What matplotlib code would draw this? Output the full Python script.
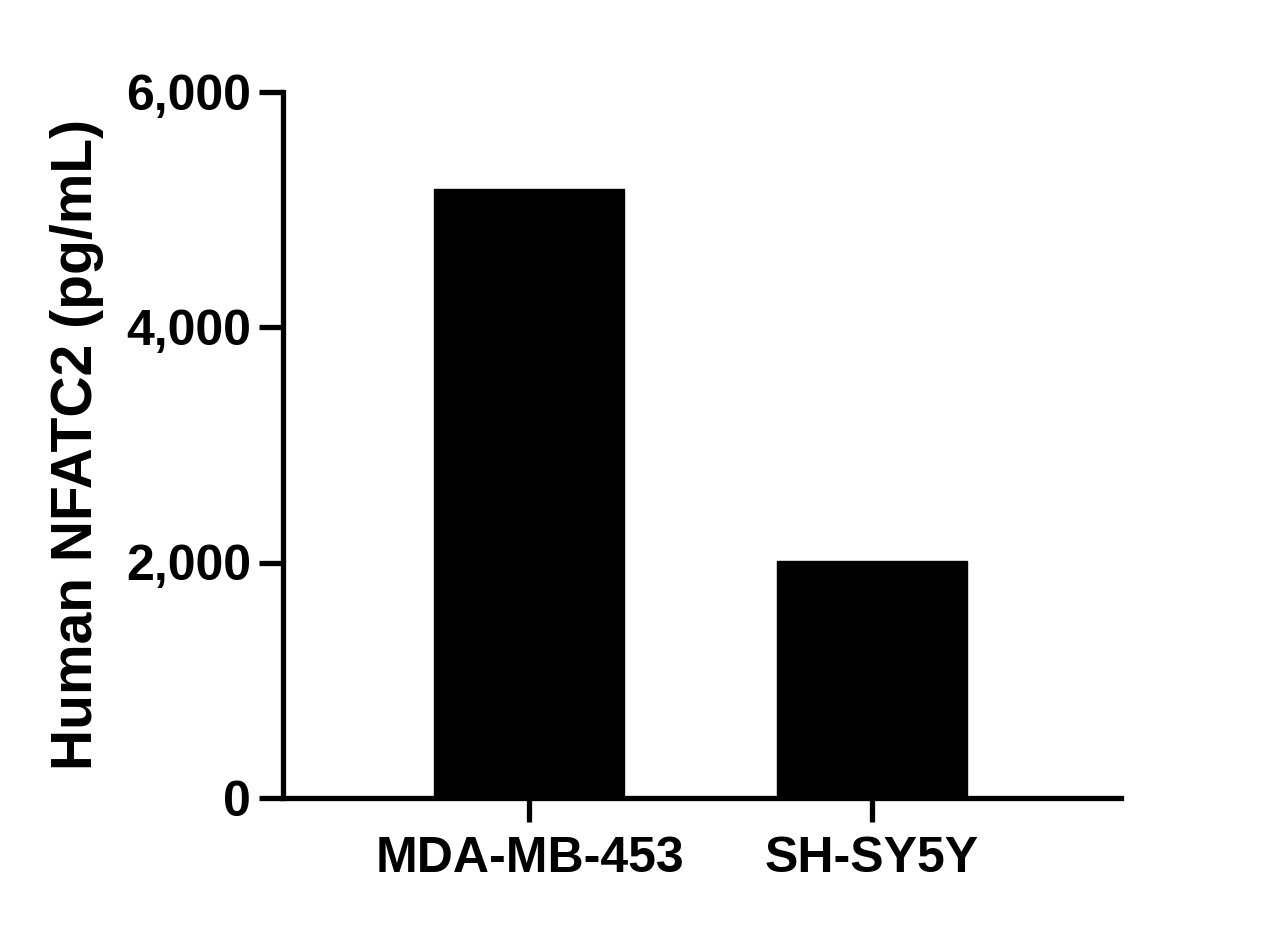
import matplotlib
matplotlib.use("Agg")
import matplotlib.pyplot as plt

categories = ["MDA-MB-453", "SH-SY5Y"]
values = [5170, 2010]
yticks = [0, 2000, 4000, 6000]
ylabel = "Human NFATC2 (pg/mL)"

plt.rcParams['font.family'] = ['Liberation Sans', 'DejaVu Sans']
plt.rcParams['font.weight'] = 'bold'

W, H = 1272, 925
fig = plt.figure(figsize=(W / 100, H / 100), dpi=100)
left, right = 283 / W, 1121 / W
bottom, top = 1 - 798 / H, 1 - 91.5 / H
ax = fig.add_axes([left, bottom, right - left, top - bottom])

x = list(range(len(categories)))
ax.bar(x, values, width=0.555, color="black", edgecolor="black")

ax.set_xlim(-0.72, 1.728)
ax.set_ylim(0, 6000)
ax.set_yticks(yticks)
ax.set_yticklabels([f"{v:,}" for v in yticks])
ax.set_xticks(x)
ax.set_xticklabels(categories)

for s in ["top", "right"]:
    ax.spines[s].set_visible(False)
for s in ["left", "bottom"]:
    ax.spines[s].set_linewidth(3.8)
ax.spines["left"].set_capstyle("projecting")

ax.tick_params(axis="both", width=3.8, length=17, labelsize=36, pad=6)
ax.tick_params(axis="x", pad=10)
for lab in ax.get_xticklabels() + ax.get_yticklabels():
    lab.set_fontweight("bold")

ax.set_ylabel(ylabel, fontsize=41, fontweight="bold", labelpad=16)

fig.savefig("out.png", dpi=100, facecolor="white")
